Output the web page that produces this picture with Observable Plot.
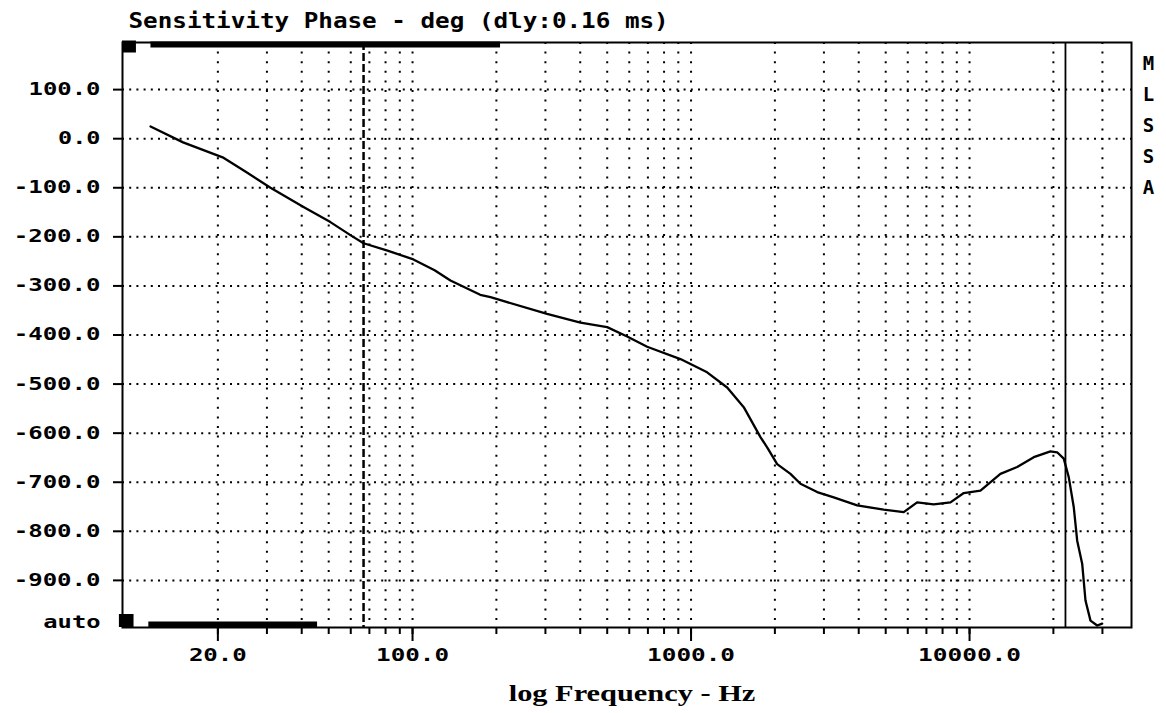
<!DOCTYPE html>
<html>
<head>
<meta charset="utf-8">
<script src="https://cdn.jsdelivr.net/npm/d3@7"></script>
<script src="https://cdn.jsdelivr.net/npm/@observablehq/plot@0.6"></script>
<style>
  html, body { margin: 0; padding: 0; background: #fff; }
  svg { display: block; }
</style>
</head>
<body>
<div id="chart"></div>
<script>
// ---- data ----
const freqHz = [11.46, 15.0, 20.8, 25.1, 30.9, 40.6, 50.7, 60.4, 66.7, 81.3, 100.7, 120, 136.8, 175, 190.5, 207,
  304, 400.7, 499.7, 589.6, 695.8, 916, 1142, 1348, 1546, 1775, 1876, 2038, 2275, 2471, 2837, 3254, 3949,
  4919, 5802, 6482, 7437, 8541, 9532, 10943, 12907, 14825, 17008, 19522, 20633, 21789, 22715, 23671, 24349,
  25375, 26078, 27179, 28724, 29936];
const phaseDeg = [25, -7.5, -38, -67, -100, -139, -170, -198, -213, -228, -246, -268, -289, -318, -323, -329,
  -357, -375, -384, -403, -424, -449, -476, -507, -547, -608, -629, -663, -683, -703, -720, -731, -747,
  -756, -761, -741, -745, -741, -722, -717, -683, -669, -649, -637, -639, -652, -690, -751, -819,
  -866, -941, -982, -992, -988];

const yTickValues = [100, 0, -100, -200, -300, -400, -500, -600, -700, -800, -900];
const yAutoTick = [-985];
const xLabelTicks = [20, 100, 1000, 10000];
const xGridFreqs = [20, 30, 40, 50, 60, 70, 80, 90, 100, 200, 300, 400, 500, 600, 700, 800, 900,
  1000, 2000, 3000, 4000, 5000, 6000, 7000, 8000, 9000, 10000, 20000, 30000];
const cursorFreqs = [66.7];
const markerFreqs = [22100];
const topBand = [11.5, 207];
const bottomBand = [11.3, 45.6];
const topSquare = [9.09, 10.2];
const bottomSquare = [8.86, 10.0];

const titleText = "Sensitivity Phase - deg (dly:0.16 ms)";
const xTitle = "log Frequency - Hz";
const sideText = "M\nL\nS\nS\nA";

const xDomain = [9.09, 38150];
const yDomain = [-996, 196];

const mono = "'DejaVu Sans Mono', monospace";

const chart = Plot.plot({
  width: 1166,
  height: 713,
  marginLeft: 122,
  marginRight: 35,
  marginTop: 42,
  marginBottom: 86,
  x: {type: "log", domain: xDomain, axis: null},
  y: {domain: yDomain, axis: null},
  style: {background: "#fff", color: "#000", fontFamily: mono},
  marks: [
    Plot.ruleX(xGridFreqs, {stroke: "#000", strokeWidth: 2, strokeDasharray: "2,7.6"}),
    Plot.ruleY(yTickValues, {stroke: "#000", strokeWidth: 2, strokeDasharray: "2,5.2"}),
    Plot.ruleX(cursorFreqs, {stroke: "#000", strokeWidth: 2.5, strokeDasharray: "8,3"}),
    Plot.ruleX(markerFreqs, {stroke: "#000", strokeWidth: 1.8}),
    Plot.ruleY([yDomain[1]], {x1: topBand[0], x2: topBand[1], stroke: "#000", strokeWidth: 6, dy: 2}),
    Plot.ruleY([yDomain[1]], {x1: topSquare[0], x2: topSquare[1], stroke: "#000", strokeWidth: 12, dy: 4}),
    Plot.ruleY([yDomain[0]], {x1: bottomBand[0], x2: bottomBand[1], stroke: "#000", strokeWidth: 6, dy: -3}),
    Plot.ruleY([yDomain[0]], {x1: bottomSquare[0], x2: bottomSquare[1], stroke: "#000", strokeWidth: 13, dy: -7}),
    Plot.frame({stroke: "#000", strokeWidth: 2}),
    Plot.line({length: freqHz.length}, {x: freqHz, y: phaseDeg, stroke: "#000", strokeWidth: 2.3}),
    Plot.axisY({ticks: yTickValues, tickSize: 9, tickPadding: 13, tickFormat: d => d.toFixed(1),
      fontSize: 17, fontWeight: "bold", strokeWidth: 2, label: null}),
    Plot.axisY({ticks: yAutoTick, tickSize: 0, tickPadding: 22, tickFormat: () => "auto",
      fontSize: 17, fontWeight: "bold", label: null}),
    Plot.axisX({ticks: xGridFreqs, tickSize: 7, tickFormat: () => "", strokeWidth: 2, label: null}),
    Plot.axisX({ticks: xLabelTicks, tickSize: 14, tickPadding: 7, tickFormat: d => d.toFixed(1),
      fontSize: 17, fontWeight: "bold", strokeWidth: 2, label: null}),
    Plot.text([titleText], {frameAnchor: "top-left", dx: 6, dy: -15, lineAnchor: "bottom", textAnchor: "start",
      fontSize: 22, fontWeight: "bold", fill: "#000"}),
    Plot.text([xTitle], {frameAnchor: "bottom", dx: 5, dy: 73, lineAnchor: "bottom", textAnchor: "middle",
      fontSize: 23, fontWeight: "bold", fontFamily: "'Liberation Serif', serif", fill: "#000"}),
    Plot.text([sideText], {frameAnchor: "top-right", dx: 17, dy: 6, lineAnchor: "top", textAnchor: "middle",
      fontSize: 19, lineHeight: 1.63, fontWeight: "bold", fill: "#000"})
  ]
});

// widen glyphs to mimic the wide bitmap font of the original instrument screen
function stretchText(t, perChar, trim) {
  const s = t.textContent;
  if (!s || s.length === 0) return;
  t.setAttribute("textLength", s.length * perChar - trim);
  t.setAttribute("lengthAdjust", "spacingAndGlyphs");
}
chart.querySelectorAll('g[aria-label="y-axis tick label"] text').forEach(t => stretchText(t, 14.8, 2));
chart.querySelectorAll('g[aria-label="x-axis tick label"] text').forEach(t => stretchText(t, 15, 2));
chart.querySelectorAll('text').forEach(t => {
  if (t.querySelector("tspan")) return;
  if (t.textContent === titleText) stretchText(t, 14.6, 0);
  else if (t.textContent === xTitle) stretchText(t, 13.7, 0);
});

document.getElementById("chart").appendChild(chart);
</script>
</body>
</html>
